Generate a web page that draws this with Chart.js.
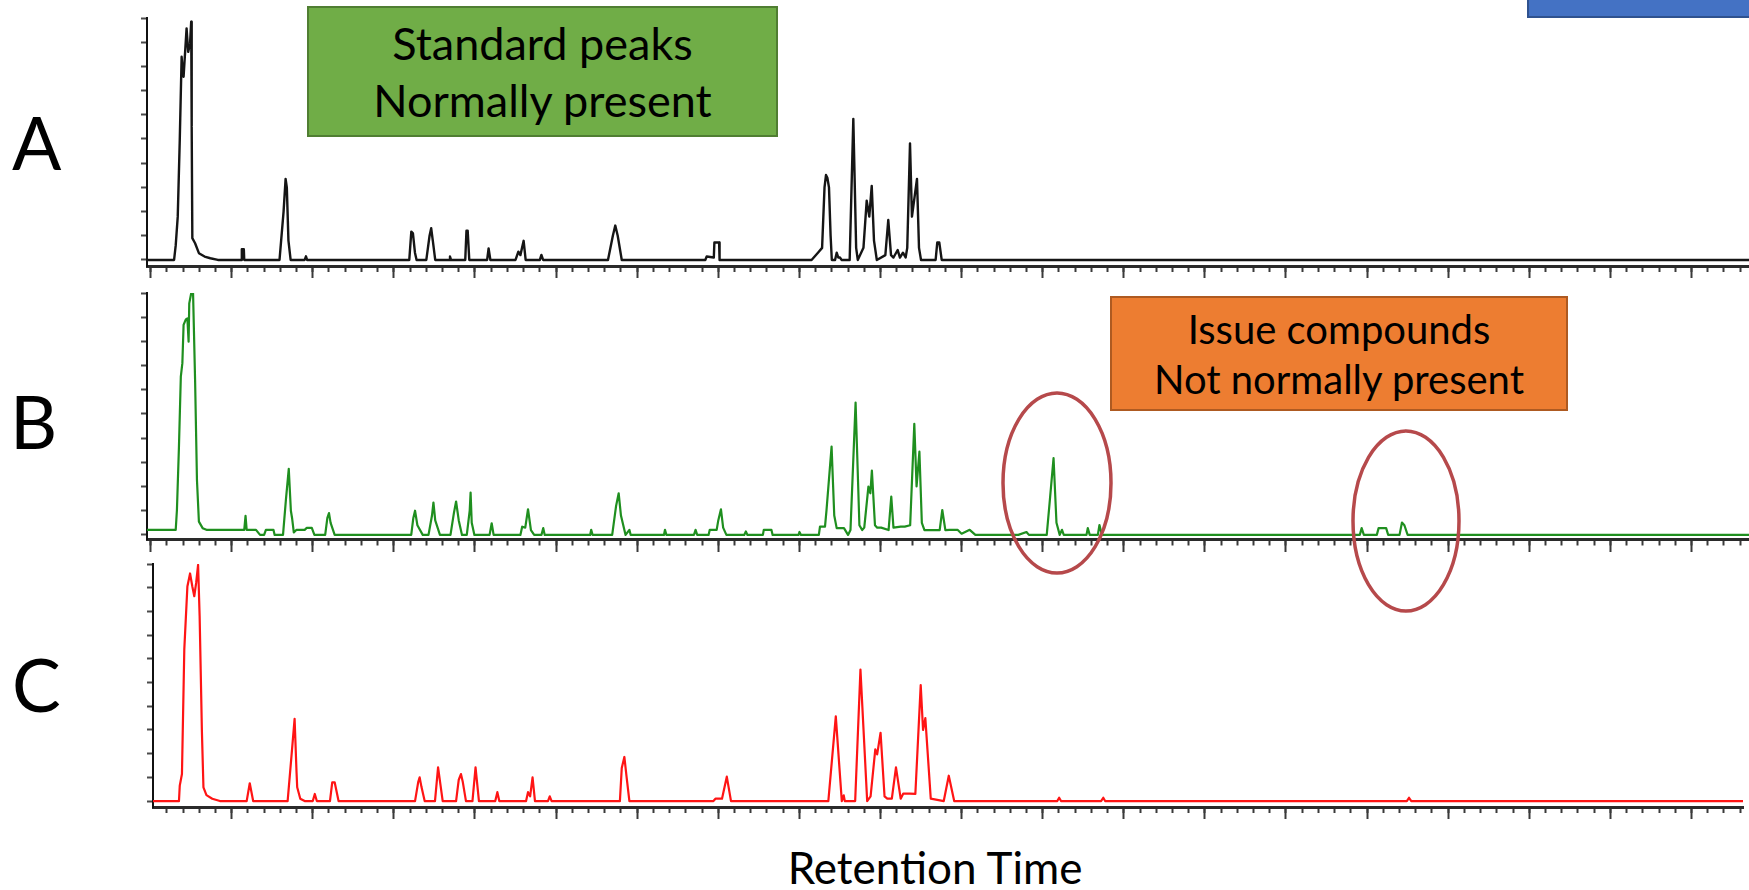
<!DOCTYPE html>
<html><head><meta charset="utf-8">
<script src="https://cdn.jsdelivr.net/npm/chart.js@4.4.1/dist/chart.umd.min.js"></script>
<style>
html,body{margin:0;padding:0;background:#fff;width:1749px;height:890px;overflow:hidden;font-family:Lato,"Open Sans",sans-serif;}
.panel{position:absolute;left:0;width:1749px;height:300px;z-index:1;}
.lbl{position:absolute;font-size:73px;color:#000;line-height:1;z-index:2;}
.box{position:absolute;box-sizing:border-box;display:flex;flex-direction:column;align-items:center;justify-content:center;color:#000;z-index:3;text-align:center;}
#overlay{position:absolute;left:0;top:0;z-index:4;pointer-events:none;}
#xtitle{position:absolute;left:535px;width:800px;text-align:center;top:845px;font-size:44px;line-height:1;color:#000;z-index:2;}
</style></head><body>

<div class="panel" style="top:0px"><canvas id="cA"></canvas></div>
<div class="panel" style="top:270px"><canvas id="cB"></canvas></div>
<div class="panel" style="top:540px"><canvas id="cC"></canvas></div>

<div class="lbl" style="left:12px;top:106px">A</div>
<div class="lbl" style="left:10px;top:385px">B</div>
<div class="lbl" style="left:12px;top:648px">C</div>

<div class="box" style="left:307px;top:6px;width:471px;height:131px;background:#70AD47;border:2px solid #507E32;line-height:57px;font-size:45px;">
<div>Standard peaks</div><div>Normally present</div></div>
<div class="box" style="left:1110px;top:296px;width:458px;height:115px;background:#ED7D31;border:2px solid #AE5A21;line-height:50px;font-size:40px;">
<div>Issue compounds</div><div>Not normally present</div></div>
<div class="box" style="left:1527px;top:-3px;width:230px;height:21px;background:#4472C4;border:2px solid #2F528F;"></div>

<svg id="overlay" width="1749" height="890">
<ellipse cx="1057" cy="483" rx="54" ry="90" fill="none" stroke="#B6494B" stroke-width="3.5"/>
<ellipse cx="1406" cy="521" rx="53" ry="90" fill="none" stroke="#B6494B" stroke-width="3.5"/>
</svg>

<div id="xtitle">Retention Time</div>

<script>
// Retention time (min) vs detector signal (% of full scale)
const traceA = [[0.956,0],[1.29,0],[1.31,6],[1.335,17.9],[1.36,49.6],[1.383,84],[1.395,78],[1.407,75.7],[1.444,95.7],[1.464,86],[1.487,89.5],[1.501,98.5],[1.507,55],[1.515,9],[1.549,6.9],[1.596,2.8],[1.666,1.4],[1.737,0.7],[1.83,0],
[2.12,0],[2.125,4.4],[2.15,4.4],[2.155,0],
[2.59,0],[2.64,20],[2.665,33.5],[2.68,30],[2.70,8],[2.727,0],
[2.90,0],[2.916,1.5],[2.93,0],
[4.19,0],[4.215,11.7],[4.235,11],[4.26,3],[4.28,0],
[4.40,0],[4.44,10],[4.46,13.1],[4.48,8],[4.51,0],
[4.68,0],[4.692,1.4],[4.705,0],
[4.88,0],[4.895,12.1],[4.91,12.1],[4.93,0],
[5.15,0],[5.168,4.8],[5.19,0],
[5.50,0],[5.535,3.4],[5.56,2],[5.60,7.9],[5.625,0],
[5.80,0],[5.819,2.1],[5.84,0],
[6.64,0],[6.70,10],[6.73,14.2],[6.76,10],[6.81,0],
[7.84,0],[7.857,1.4],[7.945,1],[7.952,7.2],[8.01,7.2],[8.016,0],
[9.15,0],[9.229,3],[9.28,5],[9.31,30],[9.328,35.1],[9.345,34],[9.365,30],[9.385,10],[9.40,0],
[9.44,0],[9.46,3],[9.48,1],[9.50,1],[9.52,0],
[9.62,0],[9.665,58.3],[9.70,5],[9.72,0],
[9.79,5],[9.83,24.5],[9.862,17.9],[9.892,30.6],[9.92,8],[9.955,0],
[10.06,2],[10.096,16.5],[10.13,2],[10.16,1],[10.212,4.1],[10.24,1],[10.277,3],[10.31,1],[10.33,5],[10.364,48.2],[10.388,17.9],[10.45,33.5],[10.475,5],[10.50,0],
[10.68,0],[10.70,7.2],[10.725,7.2],[10.755,0],
[20.709,0]];

const traceB = [[0.956,2.1],[1.31,2.1],[1.325,10.3],[1.350,36.5],[1.373,65.4],[1.392,71],[1.407,86.8],[1.435,89.1],[1.454,89.5],[1.469,79.9],[1.477,95.7],[1.501,99.9],[1.524,99.9],[1.549,64],[1.572,22.7],[1.596,5.5],[1.642,2.8],[1.689,2.1],
[2.155,2.1],[2.171,7.9],[2.185,2.1],[2.30,2.1],[2.35,0],
[2.40,0],[2.422,2.1],[2.515,2.1],[2.53,0],
[2.633,0],[2.67,15],[2.704,27.3],[2.73,10],[2.745,6.9],[2.766,1],[2.80,2.1],[2.90,2.1],[2.926,2.9],[2.988,2.9],[3.02,0],
[3.153,0],[3.18,7],[3.200,9],[3.22,5],[3.27,0],
[4.214,0],[4.24,7],[4.261,10],[4.29,4],[4.356,0],
[4.427,0],[4.47,8],[4.488,13.4],[4.51,6],[4.568,0],
[4.698,0],[4.74,9],[4.767,13.8],[4.80,6],[4.84,0],
[4.899,0],[4.935,10],[4.946,17.5],[4.96,5],[4.993,0],
[5.18,0],[5.206,4.8],[5.23,0],
[5.56,0],[5.582,3.4],[5.62,3],[5.654,10.6],[5.69,2],[5.73,0],
[5.82,0],[5.842,2.8],[5.86,0],
[6.42,0],[6.433,2.1],[6.45,0],
[6.692,0],[6.74,12],[6.772,17.2],[6.80,8],[6.857,0],[6.904,2.1],[6.92,0],
[7.33,0],[7.343,2.1],[7.36,0],
[7.70,0],[7.720,2.1],[7.74,0],
[7.88,0],[7.895,2.1],[7.98,2.1],[8.00,6],[8.033,10.6],[8.06,3],[8.10,0],
[8.32,0],[8.340,1.4],[8.36,0],
[8.55,0],[8.561,2.1],[8.655,2.1],[8.67,0],
[8.99,0],[9.001,1.2],[9.02,0],
[9.24,0],[9.254,3.4],[9.316,3.4],[9.334,10],[9.397,36.5],[9.43,8],[9.460,2.8],[9.55,2.8],[9.60,0],
[9.630,2],[9.693,54.7],[9.74,4],[9.774,2],[9.800,3],[9.851,20],[9.875,17.2],[9.894,26.6],[9.932,4],[9.96,3],[10.008,3],
[10.10,2],[10.133,15.8],[10.16,3],[10.25,3.4],[10.30,3.4],[10.366,4],[10.417,45.9],[10.445,20],[10.480,34.4],[10.51,5],[10.542,2],[10.60,2],
[10.73,2],[10.762,10.3],[10.80,2],[10.85,2.1],[10.95,2.1],[11.0,0.5],[11.10,2.1],[11.17,0],
[11.70,0],[11.80,1.2],[11.83,0],
[12.05,0],[12.09,15],[12.134,31.7],[12.17,5],[12.21,0],[12.238,2.1],[12.26,0],
[12.54,0],[12.556,2.8],[12.58,0],
[12.68,0],[12.700,4.1],[12.73,0],
[15.91,0],[15.933,2.8],[15.96,0],
[16.12,0],[16.142,2.8],[16.235,2.8],[16.26,0],
[16.40,0],[16.43,5.1],[16.46,4],[16.50,0],
[20.709,0]];

const traceC = [[1.030,0],[1.35,0],[1.360,6.5],[1.387,11.4],[1.416,64],[1.454,90.5],[1.487,96],[1.515,90.5],[1.539,86.4],[1.562,92],[1.586,99.6],[1.605,78],[1.633,29.4],[1.652,5.8],[1.689,2.5],[1.761,1],[1.855,0],
[2.185,0],[2.223,7.5],[2.265,0],
[2.690,0],[2.74,20],[2.776,34.7],[2.80,12],[2.808,5.8],[2.846,1],[2.90,0],
[3.0,0],[3.025,3],[3.05,0],
[3.212,0],[3.24,7.9],[3.27,7.9],[3.318,0],
[4.261,0],[4.30,8],[4.318,10],[4.34,6],[4.380,0],
[4.507,0],[4.545,14.2],[4.602,0],
[4.767,0],[4.80,9],[4.827,11.4],[4.85,8],[4.889,0],
[4.969,0],[5.007,14.2],[5.049,0],
[5.25,0],[5.276,3.75],[5.30,0],
[5.63,0],[5.654,3.75],[5.68,2],[5.710,10],[5.74,0],
[5.90,0],[5.922,2],[5.945,0],
[6.787,0],[6.81,14],[6.842,18.6],[6.87,10],[6.904,0],
[7.94,0],[7.965,1],[8.046,1],[8.105,10.3],[8.157,0],
[9.357,0],[9.449,35.7],[9.523,0],[9.547,2.4],[9.56,0],
[9.688,0],[9.753,55.5],[9.836,0],
[9.878,2],[9.936,21.8],[9.959,19.7],[10.001,28.8],[10.050,2],[10.084,1],
[10.140,1],[10.191,14.2],[10.249,1],[10.28,3.1],[10.36,3.1],
[10.430,3],[10.496,48.9],[10.525,30],[10.553,35],[10.620,1],
[10.78,0],[10.842,10.7],[10.909,0],
[12.18,0],[12.203,1.4],[12.226,0],
[12.72,0],[12.747,1.4],[12.77,0],
[16.49,0],[16.517,1.4],[16.545,0],
[20.635,0]];

const timeRangeAB = [0.956, 20.709];
const timeRangeC = [1.030, 20.635];
const signalRangeA = [-2.5, 100];
const signalRangeB = [-1.9, 100];
const signalRangeC = [-2.5, 100];
const minorTickStep = 0.2;   // min
const majorTickStep = 1;     // min
const signalTickStep = 10;

function makeChart(id, trace, color, lw, xr, yr, pad) {
  return new Chart(document.getElementById(id), {
    type: 'line',
    data: { datasets: [{ data: trace.map(p => ({x: p[0], y: p[1]})), borderColor: color, borderWidth: lw,
      pointRadius: 0, tension: 0, fill: false, borderJoinStyle: 'round', borderCapStyle: 'round' }] },
    options: {
      responsive: true, maintainAspectRatio: false, animation: false, devicePixelRatio: 1, events: [],
      layout: { padding: pad, autoPadding: false },
      plugins: { legend: { display: false }, tooltip: { enabled: false } },
      scales: {
        x: { type: 'linear', min: xr[0], max: xr[1],
          ticks: { display: false, stepSize: minorTickStep, includeBounds: false, autoSkip: false },
          grid: { drawOnChartArea: false, tickLength: 6, tickWidth: 2, tickColor: '#3a3a3a' },
          border: { color: '#2a2a2a', width: 3 } },
        xMajor: { type: 'linear', axis: 'x', min: xr[0], max: xr[1], position: { y: yr[0] },
          ticks: { display: false, stepSize: majorTickStep, includeBounds: false, autoSkip: false },
          grid: { drawOnChartArea: false, tickLength: 12, tickWidth: 2, tickColor: '#3a3a3a' },
          border: { display: false } },
        y: { type: 'linear', min: yr[0], max: yr[1],
          ticks: { display: false, stepSize: signalTickStep, includeBounds: false },
          grid: { drawOnChartArea: false, tickLength: 6, tickWidth: 2, tickColor: '#4a4a4a' },
          border: { color: '#111', width: 2 } }
      }
    }
  });
}

makeChart('cA', traceA, '#151515', 2.4, timeRangeAB, signalRangeA, {left: 141, right: 0, top: 18, bottom: 28});
makeChart('cB', traceB, '#1f8f1f', 2.2, timeRangeAB, signalRangeB, {left: 141, right: 0, top: 23, bottom: 24.5});
makeChart('cC', traceC, '#ff1414', 2.2, timeRangeC, signalRangeC, {left: 147, right: 6, top: 24, bottom: 27});
</script>
</body></html>
